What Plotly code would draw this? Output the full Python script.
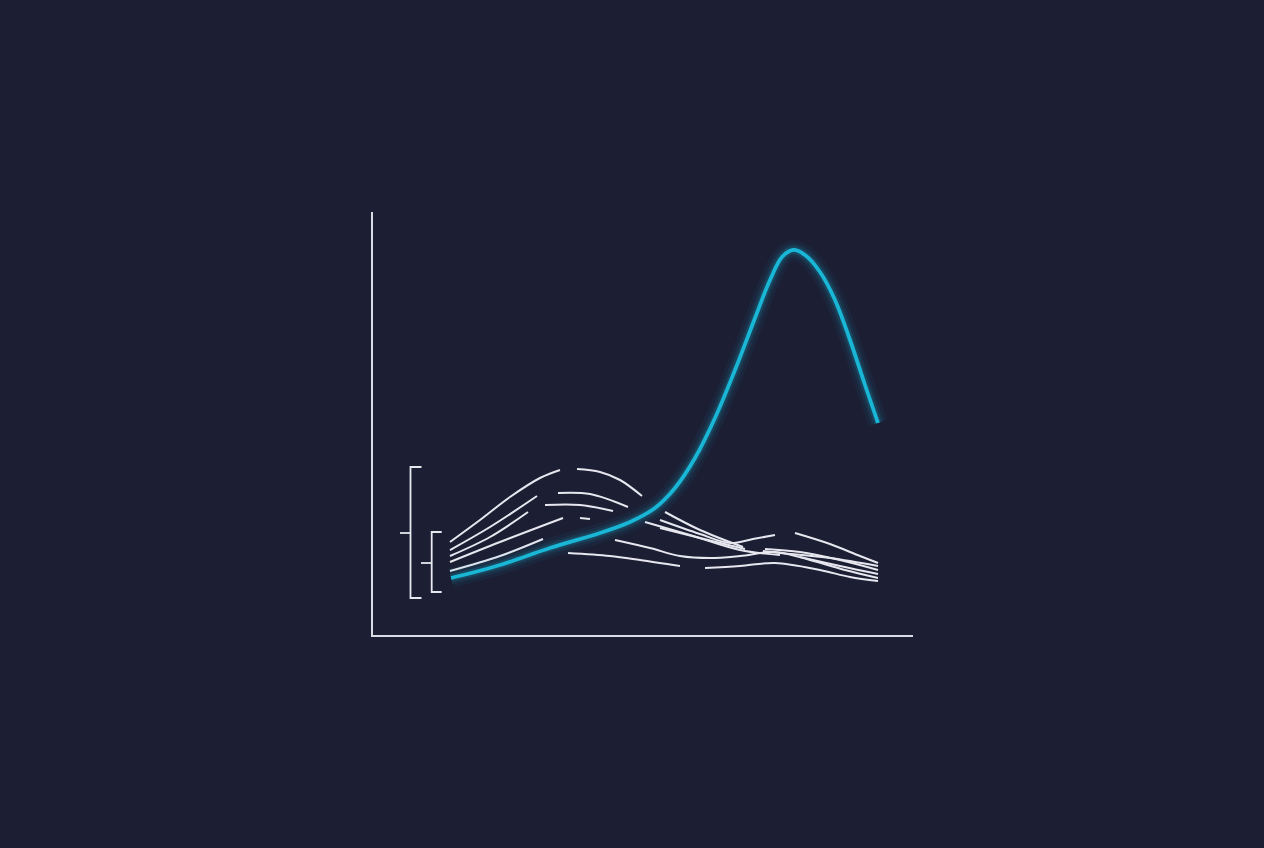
import plotly.graph_objects as go

# ---- data (x: horizontal units, y: vertical units) ----
peak_x = [78, 127, 177, 227, 257, 282, 302, 322, 342, 362, 382, 397, 409, 420, 432, 447, 462, 477, 492, 505]
peak_y = [57, 70, 87, 102, 113, 127, 147, 177, 217, 265, 317, 355, 378, 385, 380, 363, 335, 295, 250, 212]

w1_x = [77, 107, 137, 167, 187, None, 204, 227, 247, 269, None, 292, 327, 370, None, 390, 407, 457, 505]
w1_y = [93, 115, 138, 157, 165, None, 166, 163, 155, 139, None, 123, 105, 88, None, 84, 82, 77, 69]

w2_x = [77, 117, 164, None, 185, 217, 255, None, 287, 327, 357, 380, 402, None, 422, 457, 487, 505]
w2_y = [85, 108, 139, None, 142, 141, 128, None, 115, 101, 92, 96, 100, None, 102, 91, 79, 72]

w3_x = [77, 117, 155, None, 172, 207, 240, None, 287, 327, 372, None, 392, 427, 467, 505]
w3_y = [79, 98, 123, None, 130, 130, 124, None, 107, 97, 86, None, 86, 83, 75, 65]

w4_x = [77, 127, 190, None, 207, 217, None, 272, 317, 367, 407, None, 427, 467, 505]
w4_y = [73, 93, 117, None, 117, 116, None, 113, 100, 85, 80, None, 78, 69, 61]

w5_x = [77, 127, 170, None, 242, 277, 307, 337, 367, 402, 437, 472, 505]
w5_y = [64, 79, 96, None, 95, 87, 79, 77, 79, 83, 75, 65, 57]

w6_x = [195, 237, 267, 307, None, 332, 367, 402, 447, 477, 505]
w6_y = [82, 79, 75, 69, None, 67, 69, 72, 65, 58, 54]

bracket_outer_x = [27, 37.5, None, 48.5, 37.5, 37.5, 48.5]
bracket_outer_y = [102, 102, None, 168, 168, 37, 37]
bracket_inner_x = [48, 58.7, None, 68.7, 58.7, 58.7, 68.7]
bracket_inner_y = [72, 72, None, 103, 103, 43, 43]

BG = "#1c1e33"
WHITE = "#e6e7ef"
CYAN = "#19b6d6"

fig = go.Figure()

for bx, by in [(bracket_outer_x, bracket_outer_y), (bracket_inner_x, bracket_inner_y)]:
    fig.add_trace(go.Scatter(x=bx, y=by, mode="lines", line=dict(color=WHITE, width=1.8),
                             connectgaps=False, hoverinfo="skip"))

for wx, wy in [(w1_x, w1_y), (w2_x, w2_y), (w3_x, w3_y), (w4_x, w4_y), (w5_x, w5_y), (w6_x, w6_y)]:
    fig.add_trace(go.Scatter(x=wx, y=wy, mode="lines",
                             line=dict(color=WHITE, width=2, shape="spline", smoothing=1.0),
                             connectgaps=False, hoverinfo="skip"))

# glow layers
for w, a in [(20, 0.05), (13, 0.09), (8, 0.16)]:
    fig.add_trace(go.Scatter(x=peak_x, y=peak_y, mode="lines",
                             line=dict(color=f"rgba(25,182,214,{a})", width=w, shape="spline", smoothing=1.0),
                             hoverinfo="skip"))
fig.add_trace(go.Scatter(x=peak_x, y=peak_y, mode="lines",
                         line=dict(color=CYAN, width=3.8, shape="spline", smoothing=1.0),
                         hoverinfo="skip"))

fig.update_layout(
    width=1264, height=848,
    paper_bgcolor=BG, plot_bgcolor=BG,
    margin=dict(l=373, r=351, t=212, b=213),
    showlegend=False,
    xaxis=dict(range=[0, 540], showgrid=False, zeroline=False, showticklabels=False,
               showline=True, linecolor="#d9dbe6", linewidth=2, ticks=""),
    yaxis=dict(range=[0, 423], showgrid=False, zeroline=False, showticklabels=False,
               showline=True, linecolor="#d9dbe6", linewidth=2, ticks=""),
)

fig.write_html(
    "out.html",
    config={"displayModeBar": False},
    post_script="document.body.style.margin='0';document.body.style.overflow='hidden';document.body.style.background='#1c1e33';",
)
